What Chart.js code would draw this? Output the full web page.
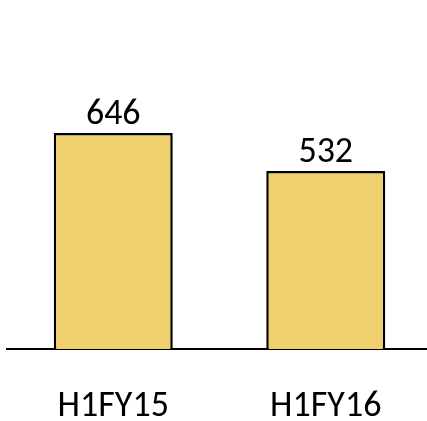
<!DOCTYPE html>
<html>
<head>
<meta charset="utf-8">
<script src="https://cdn.jsdelivr.net/npm/chart.js@4/dist/chart.umd.min.js"></script>
<style>
  html, body { margin: 0; padding: 0; overflow: hidden; background: #fff; }
  #wrap { width: 434px; height: 421px; }
</style>
</head>
<body>
<div id="wrap"><canvas id="c" width="434" height="421"></canvas></div>
<script>
// Half-year figures
const periods = ['H1FY15', 'H1FY16'];
const amounts = [646, 532];

const FONT = { family: 'Carlito, Lato, sans-serif', size: 36 };

// Writes each bar's value just above it
const valueLabels = {
  id: 'valueLabels',
  afterDatasetsDraw(chart) {
    const ctx = chart.ctx;
    const meta = chart.getDatasetMeta(0);
    ctx.save();
    ctx.font = `${FONT.size}px ${FONT.family}`;
    ctx.fillStyle = '#000';
    ctx.textAlign = 'center';
    ctx.textBaseline = 'alphabetic';
    meta.data.forEach((bar, i) => {
      ctx.fillText(String(amounts[i]), bar.x, bar.y - 9);
    });
    ctx.restore();
  }
};

new Chart(document.getElementById('c'), {
  type: 'bar',
  data: {
    labels: periods,
    datasets: [{
      data: amounts,
      backgroundColor: '#F0CF6E',
      borderColor: '#000',
      borderWidth: 2.5,
      borderSkipped: 'bottom',
      barPercentage: 0.56,
      categoryPercentage: 1
    }]
  },
  options: {
    responsive: false,
    animation: false,
    layout: { padding: { top: 14.5, left: 7, right: 2, bottom: 0 } },
    plugins: { legend: { display: false }, tooltip: { enabled: false } },
    scales: {
      x: {
        z: 1,
        grid: { display: false, drawTicks: false },
        border: { display: true, color: '#000', width: 2 },
        ticks: { color: '#000', font: FONT, padding: 36 },
        afterFit(scale) { scale.height = 72; }
      },
      y: {
        display: false,
        min: 0,
        max: 1000
      }
    }
  },
  plugins: [valueLabels]
});
</script>
</body>
</html>
